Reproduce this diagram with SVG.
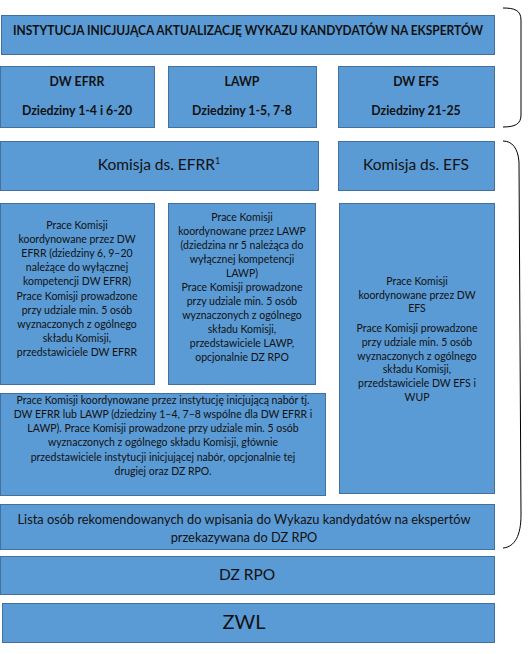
<svg xmlns="http://www.w3.org/2000/svg" width="531" height="654" viewBox="0 0 531 654">
<style>
.box{fill:#5B9BD5;stroke:#41719C;stroke-width:1}
text{font-family:Lato,"Open Sans","Liberation Sans",sans-serif;fill:#111;text-anchor:middle}
.b{font-weight:bold;font-size:12.3px}
.s{font-size:10.5px}
.brace{fill:none;stroke:#000;stroke-width:1}
</style>
<rect width="531" height="654" fill="#fff"/>
<g id="instytucja">
<rect class="box" x="1.5" y="15.5" width="493" height="39"/>
<text class="b" x="248" y="35" textLength="470" lengthAdjust="spacingAndGlyphs">INSTYTUCJA INICJUJĄCA AKTUALIZACJĘ WYKAZU KANDYDATÓW NA EKSPERTÓW</text>
</g>
<g id="dw-efrr">
<rect class="box" x="0.5" y="66.5" width="154" height="61"/>
<text class="b" x="77" y="86">DW EFRR</text>
<text class="b" x="77" y="115">Dziedziny 1-4 i 6-20</text>
</g>
<g id="lawp">
<rect class="box" x="168.5" y="66.5" width="148" height="61"/>
<text class="b" x="242" y="86">LAWP</text>
<text class="b" x="242" y="115">Dziedziny 1-5, 7-8</text>
</g>
<g id="dw-efs">
<rect class="box" x="338.5" y="66.5" width="156" height="61"/>
<text class="b" x="416" y="86">DW EFS</text>
<text class="b" x="416" y="115">Dziedziny 21-25</text>
</g>
<g id="komisja-efrr">
<rect class="box" x="0.5" y="141.5" width="318" height="49"/>
<text x="159" y="170" font-size="15.5">Komisja ds. EFRR<tspan font-size="9" dy="-6">1</tspan></text>
</g>
<g id="komisja-efs">
<rect class="box" x="338.5" y="141.5" width="156" height="49"/>
<text x="416" y="170" font-size="15.5">Komisja ds. EFS</text>
</g>
<g id="prace-dw-efrr">
<rect class="box" x="0.5" y="203.5" width="154" height="181"/>
<text class="s" x="77" y="229">Prace Komisji</text>
<text class="s" x="77" y="243">koordynowane przez DW</text>
<text class="s" x="77" y="257">EFRR (dziedziny 6, 9–20</text>
<text class="s" x="77" y="271">należące do wyłącznej</text>
<text class="s" x="77" y="285">kompetencji DW EFRR)</text>
<text class="s" x="77" y="300">Prace Komisji prowadzone</text>
<text class="s" x="77" y="314">przy udziale min. 5 osób</text>
<text class="s" x="77" y="328">wyznaczonych z ogólnego</text>
<text class="s" x="77" y="342">składu Komisji,</text>
<text class="s" x="77" y="356">przedstawiciele DW EFRR</text>
</g>
<g id="prace-lawp">
<rect class="box" x="168.5" y="203.5" width="147" height="181"/>
<text class="s" x="242" y="221">Prace Komisji</text>
<text class="s" x="242" y="235">koordynowane przez LAWP</text>
<text class="s" x="242" y="249">(dziedzina nr 5 należąca do</text>
<text class="s" x="242" y="263">wyłącznej kompetencji</text>
<text class="s" x="242" y="277">LAWP)</text>
<text class="s" x="242" y="291">Prace Komisji prowadzone</text>
<text class="s" x="242" y="305">przy udziale min. 5 osób</text>
<text class="s" x="242" y="319">wyznaczonych z ogólnego</text>
<text class="s" x="242" y="333">składu Komisji,</text>
<text class="s" x="242" y="347">przedstawiciele LAWP,</text>
<text class="s" x="242" y="361">opcjonalnie DZ RPO</text>
</g>
<g id="prace-dw-efs">
<rect class="box" x="339.5" y="203.5" width="155" height="290"/>
<text class="s" x="417" y="285">Prace Komisji</text>
<text class="s" x="417" y="299">koordynowane przez DW</text>
<text class="s" x="417" y="312">EFS</text>
<text class="s" x="417" y="332">Prace Komisji prowadzone</text>
<text class="s" x="417" y="346">przy udziale min. 5 osób</text>
<text class="s" x="417" y="360">wyznaczonych z ogólnego</text>
<text class="s" x="417" y="373">składu Komisji,</text>
<text class="s" x="417" y="387">przedstawiciele DW EFS i</text>
<text class="s" x="417" y="401">WUP</text>
</g>
<g id="prace-wspolne">
<rect class="box" x="0.5" y="393.5" width="325" height="102"/>
<text class="s" x="163" y="404">Prace Komisji koordynowane przez instytucję inicjującą nabór tj.</text>
<text class="s" x="163" y="418">DW EFRR lub LAWP (dziedziny 1–4, 7–8 wspólne dla DW EFRR i</text>
<text class="s" x="163" y="432">LAWP). Prace Komisji prowadzone przy udziale min. 5 osób</text>
<text class="s" x="163" y="446">wyznaczonych z ogólnego składu Komisji, głównie</text>
<text class="s" x="163" y="461">przedstawiciele instytucji inicjującej nabór, opcjonalnie tej</text>
<text class="s" x="163" y="475">drugiej oraz DZ RPO.</text>
</g>
<g id="lista">
<rect class="box" x="0.5" y="504.5" width="494" height="45"/>
<text x="244" y="524" font-size="12.8">Lista osób rekomendowanych do wpisania do Wykazu kandydatów na ekspertów</text>
<text x="244" y="542" font-size="12.8">przekazywana do DZ RPO</text>
</g>
<g id="dz-rpo">
<rect class="box" x="0.5" y="556.5" width="494" height="38"/>
<text x="247" y="580" font-size="15.5">DZ RPO</text>
</g>
<g id="zwl">
<rect class="box" x="2.5" y="603.5" width="492" height="39"/>
<text x="244" y="629" font-size="20">ZWL</text>
</g>
<g id="connectors">
<path class="brace" d="M503 8 C514 8 521 10 521 20 L521 115 C521 124 515 127 503 127"/>
<path class="brace" d="M503 141 C512 141 518 148 519 162 L521 515 C521 535 515 547 503 548"/>
</g>
</svg>
